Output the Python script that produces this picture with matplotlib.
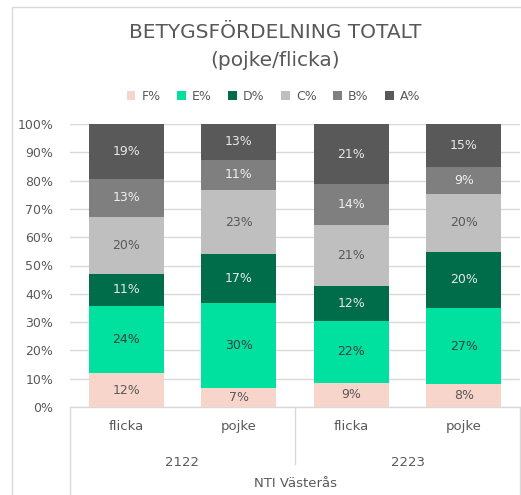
import numpy as np
import matplotlib.pyplot as plt
from matplotlib.lines import Line2D
from matplotlib.patches import Rectangle
import matplotlib.transforms as mtransforms

# data
groups = ['2122', '2122', '2223', '2223']
genders = ['flicka', 'pojke', 'flicka', 'pojke']
school = 'NTI Västerås'
grades = ['F%', 'E%', 'D%', 'C%', 'B%', 'A%']
F = [12.0, 6.7, 8.6, 8.1]
E = [23.8, 29.9, 21.9, 26.8]
D = [11.2, 17.3, 12.4, 20.0]
C = [20.2, 22.7, 21.4, 20.4]
B = [13.4, 10.8, 14.4, 9.4]
A = [19.4, 12.6, 21.3, 15.3]

colors = ['#F8D5CB', '#00E09E', '#006D4A', '#BFBFBF', '#7F7F7F', '#595959']
textcol = ['#595959', '#404040', '#E8E8E8', '#595959', '#EFEFEF', '#E8E8E8']
txt = '#595959'

fig = plt.figure(figsize=(5.21, 4.95), dpi=100)
fig.patches.append(Rectangle((12 / 521, -0.01), 1.0, 1 - 7 / 495 + 0.01,
                             transform=fig.transFigure, fill=False,
                             edgecolor='#D9D9D9', linewidth=1))
ax = fig.add_axes([70 / 521, (495 - 407) / 495, 450 / 521, 283 / 495])

series = [F, E, D, C, B, A]
x = np.arange(len(genders))
bottom = np.zeros(len(genders))
for vals, name, col, tc in zip(series, grades, colors, textcol):
    vals = np.array(vals)
    ax.bar(x, vals / 100, 0.667, bottom=bottom, color=col, label=name, zorder=3)
    for xi, b, v in zip(x, bottom, vals):
        ax.text(xi, b + v / 200, f'{round(v):.0f}%', ha='center', va='center',
                fontsize=9, color=tc, zorder=4)
    bottom = bottom + vals / 100

ax.set_xlim(-0.5, len(genders) - 0.5)
ax.set_ylim(0, 1)
ax.set_yticks(np.arange(0, 1.01, 0.1))
ax.set_yticklabels([f'{int(round(t * 100))}%' for t in np.arange(0, 1.01, 0.1)])
ax.tick_params(axis='y', length=0, pad=12, labelsize=9, labelcolor=txt)
ax.set_xticks([])
ax.grid(axis='y', color='#D9D9D9', linewidth=1, zorder=0)
for s in ax.spines.values():
    s.set_visible(False)

# multi-level category axis
tr = mtransforms.blended_transform_factory(ax.transData, ax.transAxes)
lc = '#D9D9D9'
ax.add_line(Line2D([-0.5, 3.5], [0, 0], transform=tr, color=lc, lw=1, clip_on=False))
ax.add_line(Line2D([-0.5, -0.5], [0, -0.32], transform=tr, color=lc, lw=1, clip_on=False))
ax.add_line(Line2D([3.5, 3.5], [0, -0.32], transform=tr, color=lc, lw=1, clip_on=False))
ax.add_line(Line2D([1.5, 1.5], [0, -0.2], transform=tr, color=lc, lw=1, clip_on=False))
for xi, g in zip(x, genders):
    ax.text(xi, -0.07, g, transform=tr, ha='center', va='center', fontsize=9.5, color=txt)
for gname in dict.fromkeys(groups):
    idx = [i for i, g in enumerate(groups) if g == gname]
    ax.text(np.mean(idx), -0.197, gname, transform=tr, ha='center', va='center',
            fontsize=9.5, color=txt)
ax.text(np.mean(x), -0.272, school, transform=tr, ha='center', va='center',
        fontsize=9.5, color=txt)

fig.text(0.528, 0.935, 'BETYGSFÖRDELNING TOTALT', ha='center', va='center',
         fontsize=14.5, color=txt)
fig.text(0.528, 0.877, '(pojke/flicka)', ha='center', va='center',
         fontsize=14.5, color=txt)
fig.legend(loc='center', bbox_to_anchor=(0.525, 0.805), ncol=6, frameon=False,
           fontsize=9, labelcolor=txt, handlelength=0.7, handleheight=0.7,
           handletextpad=0.5, columnspacing=1.3)

fig.savefig('out.png', dpi=100)
